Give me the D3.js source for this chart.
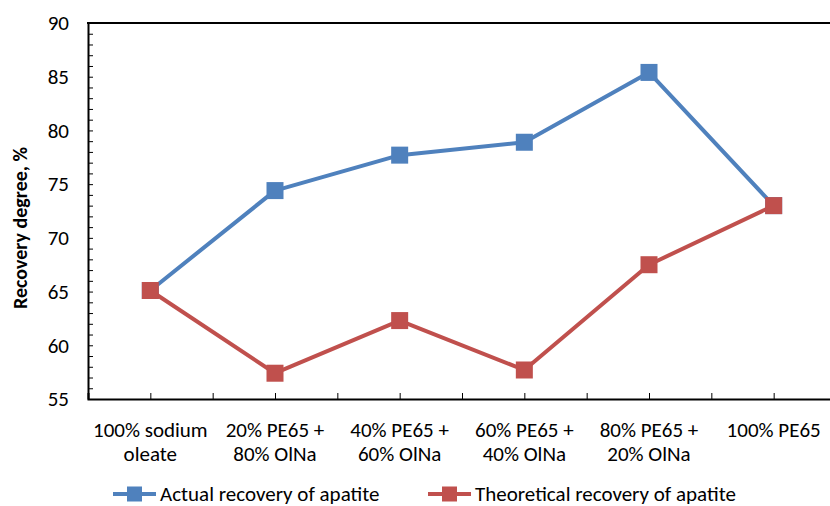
<!DOCTYPE html>
<html><head><meta charset="utf-8">
<script src="https://cdn.jsdelivr.net/npm/d3@7"></script>
<style>body{margin:0;background:#fff}svg{display:block}text{font-family:Carlito,Lato,sans-serif}</style>
</head><body>
<svg id="c" width="830" height="506"></svg>
<script>
const categories = [["100% sodium","oleate"],["20% PE65 +","80% OlNa"],["40% PE65 +","60% OlNa"],["60% PE65 +","40% OlNa"],["80% PE65 +","20% OlNa"],["100% PE65"]];
const actual = [65.1, 74.4, 77.7, 78.9, 85.4, 73.0];
const theoretical = [65.1, 57.4, 62.3, 57.7, 67.5, 73.0];
const seriesNames = ["Actual recovery of apatite","Theoretical recovery of apatite"];
const colors = ["#4F81BD","#C0504D"];
const yTicks = [55,60,65,70,75,80,85,90];

const svg = d3.select("#c");
const L=88, R=836, T=23, B=399;
const x = d3.scaleBand().domain(d3.range(categories.length)).range([L,R]);
const y = d3.scaleLinear().domain([55,90]).range([B,T]);
const cx = i => x(i)+x.bandwidth()/2;

// minor y ticks (inside)
const gm = svg.append("g").attr("transform",`translate(${L},0)`)
  .call(d3.axisLeft(y).tickValues(d3.range(55,91,1)).tickSize(-5).tickFormat(""));
gm.select(".domain").remove();
gm.selectAll("line").attr("stroke","#000");

const gy = svg.append("g").attr("transform",`translate(${L},0)`)
  .call(d3.axisLeft(y).tickValues(yTicks).tickSize(0).tickPadding(19));
gy.select(".domain").attr("stroke","#000").attr("stroke-width",2);
gy.selectAll("text").attr("font-size",21).attr("fill","#000").attr("font-family","Carlito,Lato,sans-serif");

// top border
svg.append("line").attr("x1",L-1).attr("x2",R).attr("y1",T).attr("y2",T).attr("stroke","#000").attr("stroke-width",2);

// x axis
const halfTicks = [];
for(let i=0;i<categories.length;i++){halfTicks.push(x(i)); halfTicks.push(cx(i));}
halfTicks.push(R);
const xs = d3.scaleLinear().domain([L,R]).range([L,R]);
const gx = svg.append("g").attr("transform",`translate(0,${B})`)
  .call(d3.axisBottom(xs).tickValues(halfTicks).tickSize(-6).tickFormat(""));
gx.select(".domain").attr("stroke","#000").attr("stroke-width",2);
gx.selectAll("line").attr("stroke","#000");

// x labels
const lab = svg.append("g");
categories.forEach((c,i)=>{
  const t = lab.append("text").attr("x",cx(i)).attr("y",437).attr("text-anchor","middle").attr("font-size",21).attr("fill","#000");
  c.forEach((s,j)=>t.append("tspan").attr("x",cx(i)).attr("dy",j?24:0).text(s));
});

// y title
svg.append("text").attr("transform","translate(27,228) rotate(-90)").attr("text-anchor","middle")
  .attr("font-size",20).attr("font-weight","bold").text("Recovery degree, %");

// series
const line = d3.line().x((d,i)=>cx(i)).y(d=>y(d));
[actual, theoretical].forEach((s,k)=>{
  svg.append("path").datum(s).attr("d",line).attr("fill","none").attr("stroke",colors[k]).attr("stroke-width",4).attr("stroke-linejoin","round");
  svg.selectAll(null).data(s).enter().append("rect")
    .attr("x",(d,i)=>cx(i)-8.5).attr("y",d=>y(d)-8.5).attr("width",17).attr("height",17).attr("fill",colors[k]);
});

// legend
const legX = [113, 428];
seriesNames.forEach((n,k)=>{
  const g = svg.append("g").attr("transform",`translate(${legX[k]},494)`);
  g.append("line").attr("x1",0).attr("x2",43).attr("stroke",colors[k]).attr("stroke-width",4);
  g.append("rect").attr("x",14).attr("y",-7.5).attr("width",15).attr("height",15).attr("fill",colors[k]);
  g.append("text").attr("x",47).attr("y",7).attr("font-size",21).text(n);
});
</script>
</body></html>
